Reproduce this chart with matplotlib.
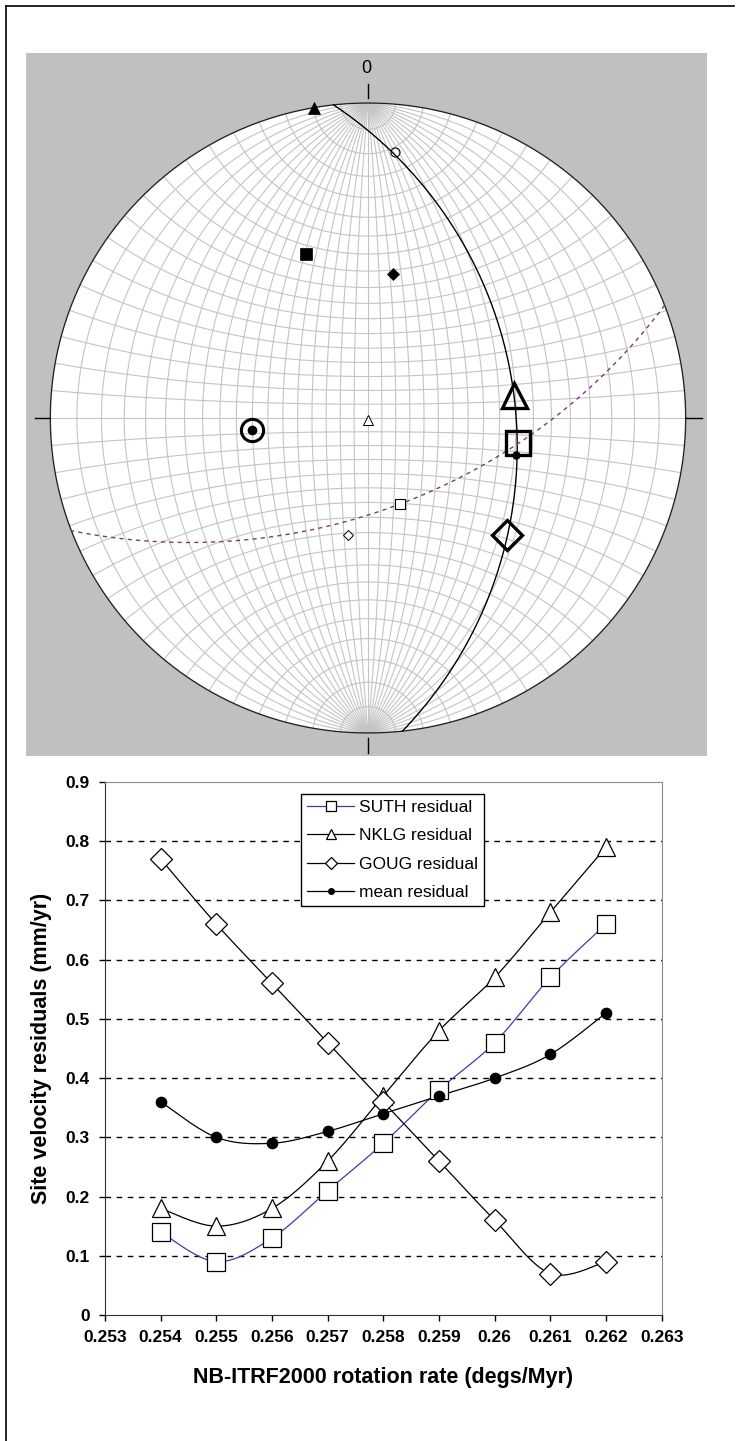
import numpy as np
import matplotlib.pyplot as plt
from matplotlib.lines import Line2D

# ---------------- data ----------------
# stereonet symbols, normalised net coordinates (x right, y up, primitive radius 1)
net_x = [-0.170, 0.085, -0.195, 0.079, 0.460, 0.000, -0.365, 0.472, 0.466, 0.101, -0.063, 0.437]
net_y = [0.983, 0.845, 0.522, 0.457, 0.073, -0.006, -0.037, -0.079, -0.117, -0.273, -0.371, -0.373]

# great circles: strike direction on the net and the point of largest offset
gc_solid_strike = (-0.109, 1.0)
gc_solid_apex = (0.462, 0.050)
gc_dash_strike = (0.934, 0.358)
gc_dash_apex = (0.101, -0.273)

# residual chart
rate = [0.254, 0.255, 0.256, 0.257, 0.258, 0.259, 0.260, 0.261, 0.262]
suth = [0.14, 0.09, 0.13, 0.21, 0.29, 0.38, 0.46, 0.57, 0.66]
nklg = [0.18, 0.15, 0.18, 0.26, 0.37, 0.48, 0.57, 0.68, 0.79]
goug = [0.77, 0.66, 0.56, 0.46, 0.36, 0.26, 0.16, 0.07, 0.09]
mean_res = [0.36, 0.30, 0.29, 0.31, 0.34, 0.37, 0.40, 0.44, 0.51]
series_names = ["SUTH residual", "NKLG residual", "GOUG residual", "mean residual"]
xtick_vals = [0.253, 0.254, 0.255, 0.256, 0.257, 0.258, 0.259, 0.26, 0.261, 0.262, 0.263]
ytick_vals = [0, 0.1, 0.2, 0.3, 0.4, 0.5, 0.6, 0.7, 0.8, 0.9]

W, H = 740, 1441
plt.rcParams['font.family'] = ['Liberation Sans', 'DejaVu Sans']


def fig_box(x0, y0, x1, y1):
    #pixel box (top-left origin) -> figure fraction rect
    return [x0 / W, 1 - y1 / H, (x1 - x0) / W, (y1 - y0) / H]


def wulff(v):
    return v[..., 0] / (1 + v[..., 2]), v[..., 1] / (1 + v[..., 2])


def great_circle(strike, apex):
    a = np.array(strike, float)
    a = a / np.linalg.norm(a)
    p = np.array([a[1], -a[0]])
    d = np.dot(apex, p)
    if d < 0:
        p, d = -p, -d
    th = 2 * np.arctan(d)
    b = np.array([np.sin(th) * p[0], np.sin(th) * p[1], np.cos(th)])
    a3 = np.array([a[0], a[1], 0.0])
    t = np.linspace(0, np.pi, 400)[:, None]
    return wulff(np.cos(t) * a3 + np.sin(t) * b)


def smooth(x, y, n=25):
    #excel style smoothed line through the points
    pts = np.column_stack([x, y])
    P = np.vstack([pts[0], pts, pts[-1]])
    out = []
    t = np.linspace(0, 1, n)[:, None]
    for i in range(1, len(P) - 2):
        p0, p1, p2, p3 = P[i - 1], P[i], P[i + 1], P[i + 2]
        c1 = p1 + (p2 - p0) / 6
        c2 = p2 - (p3 - p1) / 6
        out.append((1 - t)**3 * p1 + 3 * (1 - t)**2 * t * c1 + 3 * (1 - t) * t**2 * c2 + t**3 * p2)
    s = np.vstack(out)
    return s[:, 0], s[:, 1]


fig = plt.figure(figsize=(W / 100, H / 100), dpi=100)

# page frame
frame = fig.add_axes([0, 0, 1, 1])
frame.set_xlim(0, W)
frame.set_ylim(H, 0)
frame.axis('off')
frame.plot([6, 6], [6, H], color='black', lw=1.2)
frame.plot([6, 734], [6, 6], color='black', lw=1.2)

# ---------------- stereonet ----------------
cx, cy, rx, ry = 368, 418, 317.7, 315
gx0, gy0, gx1, gy1 = 26, 52.7, 707, 755.7
net = fig.add_axes(fig_box(gx0, gy0, gx1, gy1))
net.set_facecolor('#c0c0c0')
net.set_xlim((gx0 - cx) / rx, (gx1 - cx) / rx)
net.set_ylim((cy - gy1) / ry, (cy - gy0) / ry)
net.set_xticks([])
net.set_yticks([])
for s in net.spines.values():
    s.set_visible(False)

ang = np.linspace(0, 2 * np.pi, 500)
net.fill(np.cos(ang), np.sin(ang), color='white', zorder=1)

grid_col = '#c4c4c4'
latr = np.radians(np.linspace(-90, 90, 361))
for L in range(-85, 90, 5):
    Lr = np.radians(L)
    v = np.stack([np.cos(latr) * np.sin(Lr), np.sin(latr), np.cos(latr) * np.cos(Lr)], axis=-1)
    gx, gy = wulff(v)
    net.plot(gx, gy, color=grid_col, lw=0.8, zorder=2)
lonr = np.radians(np.linspace(-90, 90, 361))
for B in range(-85, 90, 5):
    Br = np.radians(B)
    v = np.stack([np.cos(Br) * np.sin(lonr), np.full_like(lonr, np.sin(Br)), np.cos(Br) * np.cos(lonr)], axis=-1)
    gx, gy = wulff(v)
    net.plot(gx, gy, color=grid_col, lw=0.8, zorder=2)

net.plot(np.cos(ang), np.sin(ang), color='#222222', lw=1.0, zorder=4)

# cross ticks and north label
net.plot([-1.048, -1.0], [0, 0], color='black', lw=1, zorder=4)
net.plot([1.0, 1.05], [0, 0], color='black', lw=1, zorder=4)
net.plot([0, 0], [1.016, 1.060], color='black', lw=1, zorder=4)
net.plot([0, 0], [-1.016, -1.063], color='black', lw=1, zorder=4)
net.text(-0.004, 1.111, "0", ha='center', va='center', fontsize=13)

sx, sy = great_circle(gc_solid_strike, gc_solid_apex)
net.plot(sx, sy, color='black', lw=1.0, zorder=5)
dx, dy = great_circle(gc_dash_strike, gc_dash_apex)
net.plot(dx, dy, color='#7a3a7a', lw=1.0, ls=(0, (3, 3)), zorder=5)

net_style = [
    dict(marker='^', ms=9, mfc='black', mec='black', mew=0.5),
    dict(marker='o', ms=6.5, mfc='none', mec='black', mew=0.8),
    dict(marker='s', ms=8, mfc='black', mec='black', mew=0.5),
    dict(marker='D', ms=6.2, mfc='black', mec='black', mew=0.5),
    dict(marker='^', ms=18, mfc='none', mec='black', mew=2.4),
    dict(marker='^', ms=7, mfc='white', mec='black', mew=0.7),
    dict(marker='o', ms=16, mfc='none', mec='black', mew=2.2),
    dict(marker='s', ms=17, mfc='none', mec='black', mew=2.4),
    dict(marker='o', ms=5.5, mfc='black', mec='black', mew=0.5),
    dict(marker='s', ms=7.5, mfc='white', mec='black', mew=0.8),
    dict(marker='D', ms=5.6, mfc='white', mec='black', mew=0.7),
    dict(marker='D', ms=15, mfc='none', mec='black', mew=2.4),
]
for x, y, st in zip(net_x, net_y, net_style):
    net.plot([x], [y], ls='none', zorder=6, **st)
# dot in the centre of the ringed symbol
net.plot([net_x[6]], [net_y[6]], ls='none', marker='o', ms=6, color='black', zorder=7)

# ---------------- residual chart ----------------
ax = fig.add_axes(fig_box(105, 782, 661.7, 1315))
ax.set_xlim(0.253, 0.263)
ax.set_ylim(0, 0.9)
for yv in ytick_vals[1:-1]:
    ax.axhline(yv, color='black', lw=1.0, ls=(0, (4, 4)), zorder=1)

styles = [
    dict(color='#3c3ca8', marker='s', ms=13),
    dict(color='black', marker='^', ms=13.5),
    dict(color='black', marker='D', ms=11),
    dict(color='black', marker='o', ms=7.5),
]
data = [suth, nklg, goug, mean_res]
handles = []
for vals, st, name in zip(data, styles, series_names):
    lx, ly = smooth(rate, vals)
    ax.plot(lx, ly, color=st['color'], lw=0.9, zorder=3)
    face = 'black' if st['marker'] == 'o' else 'white'
    ax.plot(rate, vals, ls='none', marker=st['marker'], ms=st['ms'], mfc=face,
            mec='black', mew=0.9, zorder=4)
    handles.append(Line2D([], [], color=st['color'], lw=0.9, marker=st['marker'],
                          ms=st['ms'] * 0.55, mfc=face, mec='black', mew=0.9))

ax.set_xticks(xtick_vals)
ax.set_xticklabels([f"{v:g}" for v in xtick_vals])
ax.set_yticks(ytick_vals)
ax.set_yticklabels([f"{v:g}" for v in ytick_vals])
ax.tick_params(direction='out', length=4, width=1, colors='black', pad=7)
for lab in ax.get_xticklabels() + ax.get_yticklabels():
    lab.set_fontweight('bold')
    lab.set_fontsize(12.5)
ax.spines['left'].set_color('#333333')
ax.spines['bottom'].set_color('#333333')
ax.spines['top'].set_color('#8c8c8c')
ax.spines['right'].set_color('#8c8c8c')

leg = fig.legend(handles=handles, labels=series_names, loc='upper left',
                 bbox_to_anchor=(301 / W, 1 - 794 / H), bbox_transform=fig.transFigure,
                 fontsize=12.5, handlelength=2.7, handletextpad=0.3, borderpad=0.35,
                 labelspacing=0.75, borderaxespad=0, fancybox=False, framealpha=1,
                 edgecolor='black')
leg.get_frame().set_linewidth(1.0)

fig.text(42 / W, 1 - 1048 / H, "Site velocity residuals (mm/yr)", rotation=90,
         ha='center', va='center', fontsize=15.5, fontweight='bold')
fig.text(383 / W, 1 - 1378 / H, "NB-ITRF2000 rotation rate (degs/Myr)",
         ha='center', va='center', fontsize=15.5, fontweight='bold')

fig.savefig("out.png", dpi=100)
